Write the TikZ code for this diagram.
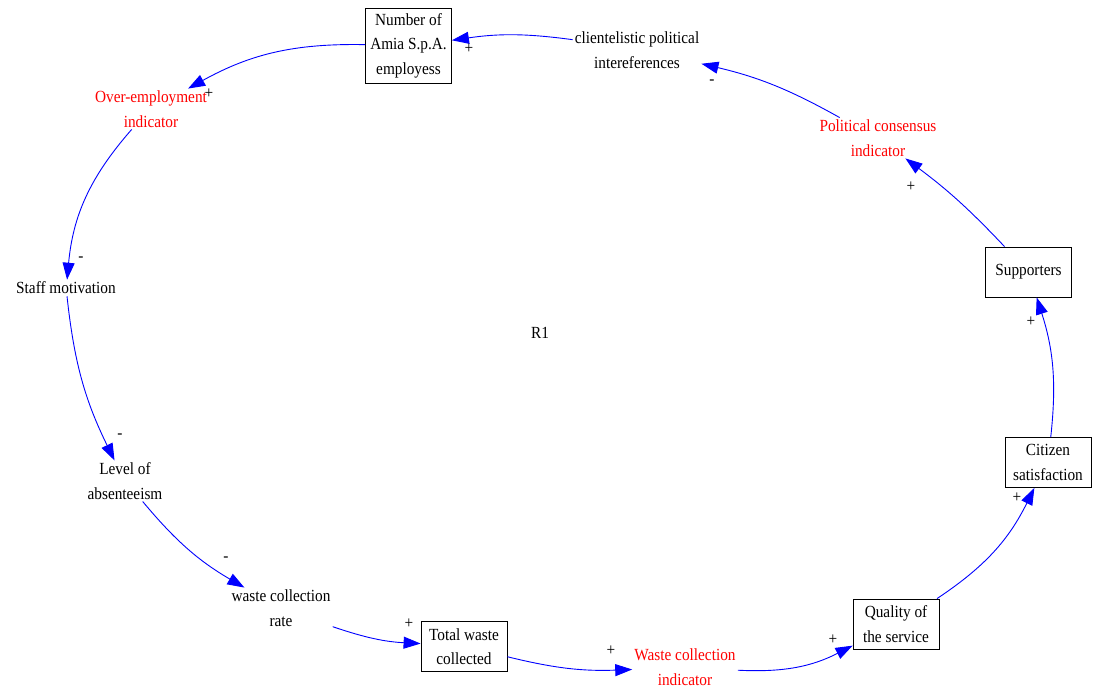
\documentclass[tikz,border=0pt]{standalone}
\usepackage{fontspec}
\setmainfont{Liberation Serif}[FakeStretch=0.9]
\usepackage{tikz}
\usetikzlibrary{arrows.meta}

\begin{document}
\begin{tikzpicture}[x=1pt,y=-1pt,
    txt/.style={font=\fontsize{17}{24.5}\selectfont, align=center, inner sep=2pt},
    var/.style={txt, draw, line width=0.8pt, minimum width=86pt, minimum height=50pt, inner sep=3pt},
    ind/.style={txt, text=red},
    link/.style={draw=blue, line width=0.9pt, -{Triangle[length=17pt,width=12pt]}, bend right=#1},
    link/.default=10,
    sgn/.style={font=\fontsize{17}{24.5}\selectfont, inner sep=0pt}]
	\useasboundingbox (0,0) rectangle (1093,691);

	% variables of the loop
	\node[var, minimum height=75pt] (num) at (408.5,45.5) {Number of\\Amia S.p.A.\\employess};
	\node[txt] (cpi) at (637,50) {clientelistic political\\intereferences};
	\node[ind] (over) at (151,109) {Over-employment\\indicator};
	\node[txt] (staff) at (66,288) {Staff motivation};
	\node[txt] (level) at (125,481) {Level of\\absenteeism};
	\node[txt] (wcr) at (281,608) {waste collection\\rate};
	\node[var] (total) at (464,646.5) {Total waste\\collected};
	\node[ind] (wci) at (685,667) {Waste collection\\indicator};
	\node[var] (quality) at (896,624) {Quality of\\the service};
	\node[var] (citizen) at (1048,462.5) {Citizen\\satisfaction};
	\node[var] (supp) at (1028.5,272) {Supporters};
	\node[ind] (pci) at (878,138) {Political consensus\\indicator};
	\node[txt] (r1) at (540,333) {R1};

	% links
	\draw[link=15] (num) to (over);
	\draw[link=18] (over) to (staff);
	\draw[link=10] (staff) to (level);
	\draw[link=10] (level) to (wcr);
	\draw[link=8] (wcr) to (total);
	\draw[link=8] (total) to (wci);
	\draw[link=15] (wci) to (quality);
	\draw[link=15] (quality) to (citizen);
	\draw[link=12] (citizen) to (supp);
	\draw[link=5] (supp) to (pci);
	\draw[link=8] (pci) to (cpi);
	\draw[link=8] (cpi) to (num);

	% polarities
	\node[sgn] at (209,94) {+};
	\node[sgn] at (81,259) {-};
	\node[sgn] at (120,436) {-};
	\node[sgn] at (226,559) {-};
	\node[sgn] at (409,624) {+};
	\node[sgn] at (611,651) {+};
	\node[sgn] at (833,640) {+};
	\node[sgn] at (1017,498) {+};
	\node[sgn] at (1031,322) {+};
	\node[sgn] at (911,187) {+};
	\node[sgn] at (712,82) {-};
	\node[sgn] at (469,49) {+};
\end{tikzpicture}
\end{document}
